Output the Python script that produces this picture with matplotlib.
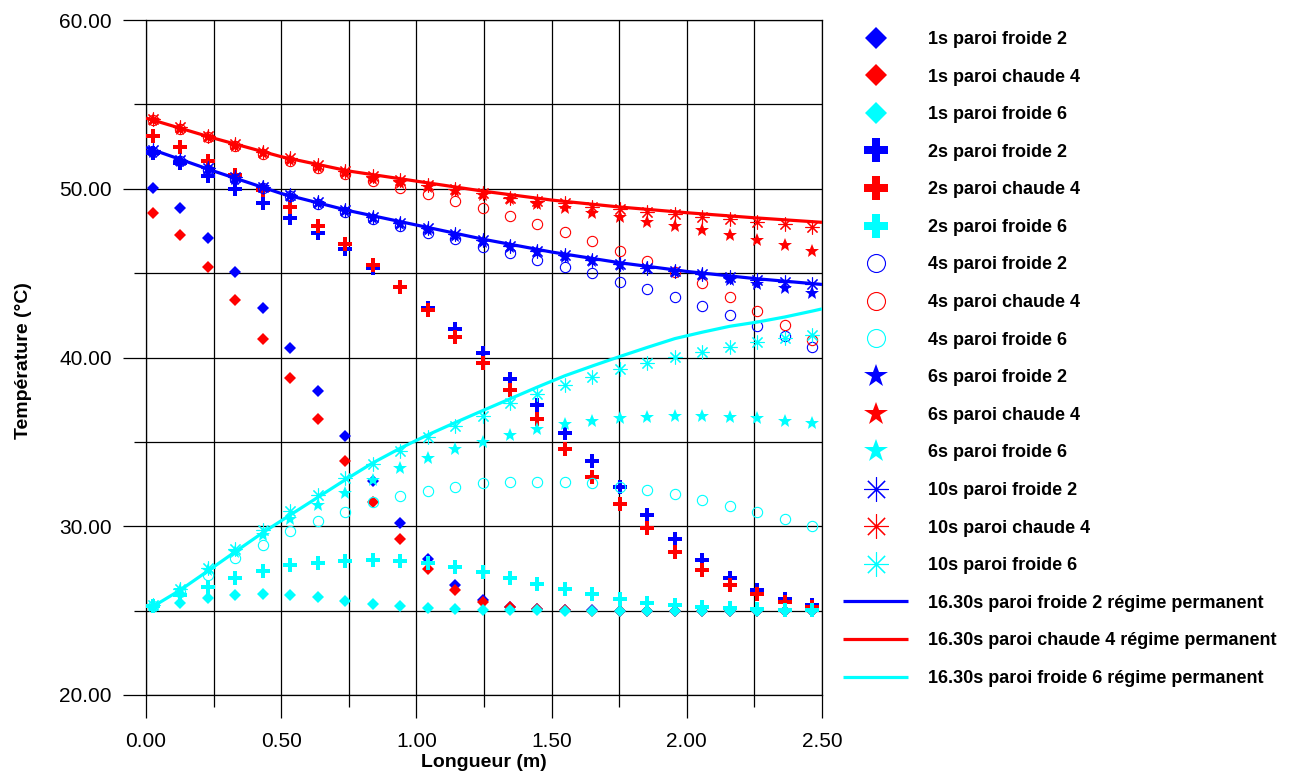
import numpy as np
import matplotlib
matplotlib.use("Agg")
import matplotlib.pyplot as plt
from matplotlib.ticker import MultipleLocator, FormatStrFormatter

plt.rcParams['font.family'] = ['Liberation Sans', 'DejaVu Sans']

# Positions along the length (m)
x = [0.0254, 0.1270, 0.2286, 0.3302, 0.4318, 0.5334, 0.6350, 0.7366, 0.8382, 0.9398,
     1.0414, 1.1430, 1.2446, 1.3462, 1.4478, 1.5494, 1.6510, 1.7526, 1.8542, 1.9558,
     2.0574, 2.1590, 2.2606, 2.3622, 2.4638]

t1_f2 = [50.02, 48.88, 47.06, 45.09, 42.95, 40.54, 38.01, 35.35, 32.70, 30.18, 28.05, 26.52, 25.65,
         25.23, 25.08, 25.03, 25.01, 25.00, 25.00, 25.00, 25.00, 25.00, 25.00, 25.00, 25.00]
t1_c4 = [48.54, 47.26, 45.38, 43.40, 41.10, 38.80, 36.36, 33.89, 31.42, 29.24, 27.45, 26.22, 25.54,
         25.20, 25.07, 25.02, 25.00, 25.00, 25.00, 25.00, 25.00, 25.00, 25.00, 25.00, 25.00]
t1_f6 = [25.24, 25.44, 25.73, 25.93, 25.99, 25.93, 25.83, 25.59, 25.39, 25.27, 25.14, 25.08, 25.04,
         25.02, 25.01, 25.00, 25.00, 25.00, 25.00, 25.00, 25.00, 25.00, 25.00, 25.00, 25.00]

t2_f2 = [52.10, 51.55, 50.76, 49.97, 49.14, 48.25, 47.36, 46.41, 45.29, 44.20, 42.92, 41.67, 40.25,
         38.71, 37.19, 35.51, 33.89, 32.30, 30.67, 29.22, 28.00, 26.92, 26.22, 25.67, 25.33]
t2_c4 = [53.13, 52.49, 51.66, 50.81, 49.93, 48.90, 47.79, 46.73, 45.48, 44.20, 42.80, 41.24, 39.65,
         38.07, 36.33, 34.56, 32.94, 31.30, 29.88, 28.49, 27.41, 26.52, 25.99, 25.53, 25.24]
t2_f6 = [25.30, 25.90, 26.42, 26.96, 27.36, 27.68, 27.85, 27.96, 28.00, 27.94, 27.80, 27.57, 27.26,
         26.92, 26.58, 26.26, 25.97, 25.69, 25.47, 25.33, 25.24, 25.14, 25.10, 25.05, 25.03]

t4_f2 = [52.20, 51.65, 51.10, 50.60, 50.05, 49.55, 49.10, 48.62, 48.20, 47.82, 47.40, 47.00, 46.57,
         46.17, 45.78, 45.38, 44.99, 44.49, 44.06, 43.60, 43.07, 42.52, 41.89, 41.27, 40.64]
t4_c4 = [54.05, 53.55, 53.05, 52.55, 52.05, 51.65, 51.25, 50.87, 50.48, 50.05, 49.67, 49.29, 48.84,
         48.39, 47.91, 47.42, 46.90, 46.31, 45.72, 45.09, 44.40, 43.60, 42.77, 41.93, 41.04]
t4_f6 = [25.30, 26.10, 27.13, 28.10, 28.91, 29.70, 30.31, 30.86, 31.41, 31.80, 32.10, 32.35, 32.54,
         32.60, 32.64, 32.60, 32.54, 32.35, 32.15, 31.89, 31.56, 31.22, 30.86, 30.43, 30.03]

t6_f2 = [52.20, 51.65, 51.15, 50.60, 50.10, 49.60, 49.15, 48.70, 48.28, 47.90, 47.55, 47.20, 46.85,
         46.55, 46.25, 45.98, 45.72, 45.50, 45.28, 45.09, 44.89, 44.59, 44.36, 44.10, 43.84]
t6_c4 = [54.05, 53.55, 53.05, 52.55, 52.10, 51.70, 51.30, 50.95, 50.60, 50.35, 50.08, 49.85, 49.62,
         49.37, 49.08, 48.84, 48.59, 48.35, 48.05, 47.79, 47.56, 47.26, 46.96, 46.67, 46.33]
t6_f6 = [25.30, 26.20, 27.40, 28.49, 29.48, 30.43, 31.26, 32.00, 32.74, 33.47, 34.07, 34.58, 35.01,
         35.41, 35.74, 36.04, 36.24, 36.40, 36.49, 36.53, 36.53, 36.49, 36.40, 36.24, 36.10]

t10_f2 = [52.30, 51.70, 51.21, 50.68, 50.12, 49.63, 49.20, 48.74, 48.31, 47.99, 47.65, 47.32, 46.96,
          46.63, 46.33, 46.07, 45.78, 45.52, 45.32, 45.13, 44.95, 44.79, 44.59, 44.49, 44.36]
t10_c4 = [54.11, 53.64, 53.13, 52.63, 52.20, 51.80, 51.41, 51.07, 50.76, 50.52, 50.22, 49.97, 49.73,
          49.47, 49.27, 49.14, 48.94, 48.78, 48.64, 48.50, 48.35, 48.21, 48.05, 47.91, 47.75]
t10_f6 = [25.33, 26.28, 27.55, 28.65, 29.78, 30.90, 31.85, 32.84, 33.69, 34.48, 35.27, 35.94, 36.55,
          37.28, 37.84, 38.37, 38.83, 39.30, 39.69, 40.05, 40.34, 40.64, 40.94, 41.14, 41.33]

# Steady state (16.30 s)
xs_grid = [0.00, 0.25, 0.50, 0.75, 1.00, 1.25, 1.50, 1.75, 2.00, 2.25, 2.50]
ts_f2 = [52.45, 51.05, 49.72, 48.70, 47.85, 47.00, 46.25, 45.62, 45.10, 44.68, 44.33]
ts_c4 = [54.19, 53.00, 51.90, 51.05, 50.45, 49.85, 49.33, 48.92, 48.58, 48.28, 48.01]
xs_f6 = x + [2.50]
ts_f6 = [25.24, 26.22, 27.35, 28.49, 29.62, 30.67, 31.71, 32.75, 33.75, 34.62, 35.41, 36.14, 36.85,
         37.55, 38.25, 38.92, 39.50, 40.06, 40.60, 41.12, 41.50, 41.85, 42.10, 42.40, 42.75, 42.88]

labels = ["1s paroi froide 2", "1s paroi chaude 4", "1s paroi froide 6",
          "2s paroi froide 2", "2s paroi chaude 4", "2s paroi froide 6",
          "4s paroi froide 2", "4s paroi chaude 4", "4s paroi froide 6",
          "6s paroi froide 2", "6s paroi chaude 4", "6s paroi froide 6",
          "10s paroi froide 2", "10s paroi chaude 4", "10s paroi froide 6",
          "16.30s paroi froide 2 régime permanent",
          "16.30s paroi chaude 4 régime permanent",
          "16.30s paroi froide 6 régime permanent"]

BLUE, RED, CYAN = "#0000FF", "#FF0000", "#00FFFF"
cols = [BLUE, RED, CYAN]

fig = plt.figure(figsize=(13.0, 7.76), dpi=100)
ax = fig.add_axes([146/1300, 1-695/776, (822-146)/1300, (695-20)/776])

series = [
    ([t1_f2, t1_c4, t1_f6], dict(marker='D', ms=6.6, mew=0, linestyle='none')),
    ([t2_f2, t2_c4, t2_f6], dict(marker='P', ms=9.6, mew=0, linestyle='none')),
    ([t4_f2, t4_c4, t4_f6], dict(marker='o', ms=7.4, mew=0.8, mfc='none', linestyle='none')),
    ([t6_f2, t6_c4, t6_f6], dict(marker='*', ms=10.0, mew=0, linestyle='none')),
    ([t10_f2, t10_c4, t10_f6], dict(marker=(8, 2, 0), ms=10.0, mew=0.8, linestyle='none')),
]
i = 0
handles = []
for group, style in series:
    for data, c in zip(group, cols):
        kw = dict(style)
        if kw.get('mfc') == 'none':
            h, = ax.plot(x, data, color=c, mec=c, label=labels[i], zorder=3, **kw)
        else:
            h, = ax.plot(x, data, color=c, mec=c, mfc=c, label=labels[i], zorder=3, **kw)
        handles.append(h)
        i += 1

for xx, yy, c in [(xs_grid, ts_f2, BLUE), (xs_grid, ts_c4, RED), (xs_f6, ts_f6, CYAN)]:
    h, = ax.plot(xx, yy, color=c, lw=2.3, label=labels[i], zorder=4, solid_capstyle='butt')
    handles.append(h)
    i += 1

ax.set_xlim(0, 2.5)
ax.set_ylim(20, 60)
ax.xaxis.set_major_locator(MultipleLocator(0.5))
ax.xaxis.set_minor_locator(MultipleLocator(0.25))
ax.yaxis.set_major_locator(MultipleLocator(10))
ax.yaxis.set_minor_locator(MultipleLocator(5))
ax.xaxis.set_major_formatter(FormatStrFormatter('%.2f'))
ax.yaxis.set_major_formatter(FormatStrFormatter('%.2f'))
ax.grid(True, which='both', color='black', lw=0.9, zorder=0)
ax.set_axisbelow(True)
for s in ax.spines.values():
    s.set_color('black')
    s.set_linewidth(0.9)
ax.tick_params(which='major', direction='out', length=16.5, width=0.9, color='black',
               labelsize=15)
ax.tick_params(axis='x', which='major', pad=10)
ax.tick_params(axis='y', which='major', pad=8)
ax.tick_params(which='minor', direction='out', length=8.5, width=0.9, color='black')

ax.set_xlabel("Longueur (m)", fontsize=14, fontweight='bold', labelpad=2)
ax.set_ylabel("Température (°C)", fontsize=14, fontweight='bold')
ax.yaxis.set_label_coords(-0.168, 0.495)

leg = fig.legend(handles=handles, labels=labels, loc='upper left',
                 bbox_to_anchor=(843/1300, 1-31/776), frameon=False,
                 prop=dict(size=13, weight='bold'), markerscale=1.75,
                 handlelength=3.6, handletextpad=1.1, labelspacing=1.14,
                 borderpad=0, borderaxespad=0, numpoints=1)

fig.savefig("out.png", dpi=100)
